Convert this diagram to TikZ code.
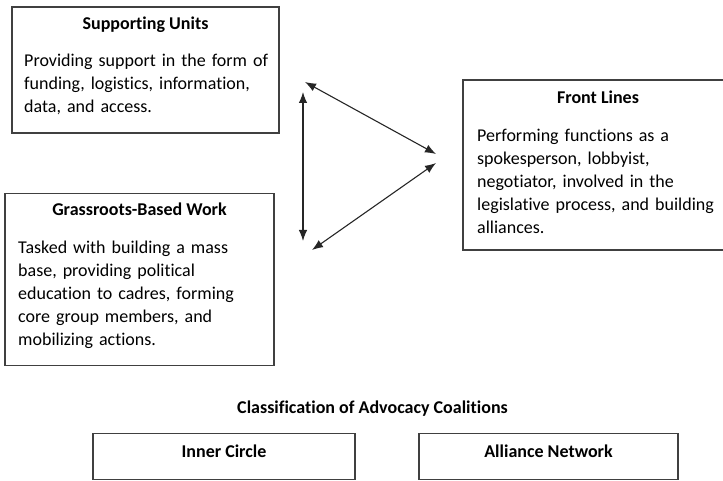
\documentclass[tikz,border=0pt]{standalone}
\usepackage{fontspec}
\setmainfont{Carlito}[Ligatures=NoCommon]
\usepackage{tikz}
\usetikzlibrary{arrows.meta,positioning,calc}

\begin{document}
\begin{tikzpicture}[x=1pt,y=-1pt]
\tikzstyle{cadre}=[draw=black!75,line width=1.1pt,inner sep=0pt]
\tikzstyle{titre}=[font=\fontsize{18}{22.8}\selectfont\bfseries,inner sep=0pt,anchor=base]
\tikzstyle{texte}=[font=\fontsize{18}{22.8}\selectfont,inner sep=0pt,anchor=base west,text width=250pt,align=left]
\tikzstyle{fleche}=[{Latex[length=11pt,width=8.5pt]}-{Latex[length=11pt,width=8.5pt]},line width=1.1pt,draw=black!85]
\useasboundingbox (0,0) rectangle (723,481);
% les trois cadres du haut
\node[cadre,minimum width=267pt,minimum height=126pt] (Appui) at (145.5,70) {};
\node[cadre,minimum width=287pt,minimum height=170pt] (Front) at (606.5,165) {};
\node[cadre,minimum width=269pt,minimum height=172pt] (Base) at (139.5,279.5) {};
\node[titre] (AppuiTitre) at (145.5,30) {Supporting Units};
\node[texte] (AppuiTexte) at (24,67) {Providing support in the form of\\funding, logistics, information,\\data, and access.};
\node[titre] (FrontTitre) at (598,104) {Front Lines};
\node[texte] (FrontTexte) at (477,142) {Performing functions as a\\spokesperson, lobbyist,\\negotiator, involved in the\\legislative process, and building\\alliances.};
\node[titre] (BaseTitre) at (139.5,216) {Grassroots-Based Work};
\node[texte] (BaseTexte) at (18,254) {Tasked with building a mass\\base, providing political\\education to cadres, forming\\core group members, and\\mobilizing actions.};
% les fleches
\coordinate (A1) at (305,82);
\coordinate (A2) at (436,154);
\coordinate (B1) at (436,163);
\coordinate (B2) at (312,250);
\coordinate (C1) at (303,92);
\coordinate (C2) at (303,241);
\draw[fleche] (A1)--(A2);
\draw[fleche] (B1)--(B2);
\draw[fleche] (C1)--(C2);
% classification
\node[titre] (Classe) at (372.5,413) {Classification of Advocacy Coalitions};
\node[cadre,minimum width=262pt,minimum height=46pt] (Cercle) at (224,456.5) {};
\node[cadre,minimum width=259pt,minimum height=46pt] (Reseau) at (548.5,456.5) {};
\node[titre] (CercleTitre) at (224,457) {Inner Circle};
\node[titre] (ReseauTitre) at (548.5,457) {Alliance Network};
\end{tikzpicture}
\end{document}
